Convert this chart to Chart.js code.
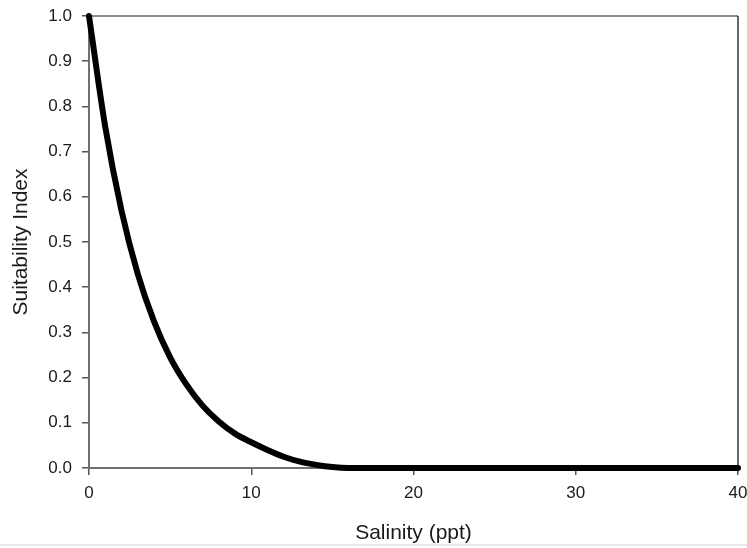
<!DOCTYPE html>
<html>
<head>
<meta charset="utf-8">
<script src="https://cdn.jsdelivr.net/npm/chart.js@4.4.1/dist/chart.umd.min.js"></script>
<style>
  html, body { margin: 0; padding: 0; background: #ffffff; }
  #wrap { width: 747px; height: 548px; position: relative; }
</style>
</head>
<body>
<div id="wrap"><canvas id="c" width="747" height="548"></canvas></div>
<script>
// Salinity (ppt) values
const salinity = [0, 1, 2, 3, 4, 5, 6, 7, 8, 9, 10, 11, 12, 13, 14, 15, 16, 20, 25, 30, 35, 40];
// Suitability Index values
const suitability = [1.0, 0.755, 0.57, 0.43, 0.325, 0.245, 0.185, 0.138, 0.103, 0.076, 0.057, 0.040, 0.025, 0.014, 0.007, 0.002, 0, 0, 0, 0, 0, 0];
const xTicks = [0, 10, 20, 30, 40];
const yTicks = [0.0, 0.1, 0.2, 0.3, 0.4, 0.5, 0.6, 0.7, 0.8, 0.9, 1.0];
const xTitle = 'Salinity (ppt)';
const yTitle = 'Suitability Index';

const points = salinity.map((s, i) => ({ x: s, y: suitability[i] }));

const frame = {
  id: 'frame',
  beforeDatasetsDraw(chart) {
    const { ctx, chartArea: a } = chart;
    ctx.save();
    ctx.strokeStyle = '#8a8a8a';
    ctx.lineWidth = 2;
    ctx.beginPath();
    ctx.moveTo(a.left, a.top);
    ctx.lineTo(a.right, a.top);
    ctx.stroke();
    ctx.strokeStyle = '#333333';
    ctx.lineWidth = 1.5;
    ctx.beginPath();
    ctx.moveTo(a.right, a.top);
    ctx.lineTo(a.right, a.bottom);
    ctx.stroke();
    ctx.restore();
  },
  afterDraw(chart) {
    const { ctx, width, height } = chart;
    ctx.save();
    ctx.strokeStyle = '#e2e2e2';
    ctx.lineWidth = 1.5;
    ctx.beginPath();
    ctx.moveTo(0, height - 3);
    ctx.lineTo(width, height - 3);
    ctx.stroke();
    ctx.restore();
  }
};

new Chart(document.getElementById('c'), {
  type: 'line',
  data: {
    datasets: [{
      data: points,
      borderColor: '#000000',
      borderWidth: 6,
      borderCapStyle: 'round',
      borderJoinStyle: 'round',
      pointRadius: 0,
      fill: false,
      cubicInterpolationMode: 'monotone',
      clip: false
    }]
  },
  options: {
    responsive: false,
    animation: false,
    devicePixelRatio: 1,
    layout: { padding: { left: 0, right: 9, top: 16, bottom: 0 } },
    plugins: { legend: { display: false }, tooltip: { enabled: false } },
    scales: {
      x: {
        type: 'linear',
        min: 0, max: 40,
        afterBuildTicks(scale) { scale.ticks = xTicks.map(v => ({ value: v })); },
        afterFit(scale) { scale.height = 80; scale.paddingLeft = 0; scale.paddingRight = 0; },
        grid: { display: true, drawOnChartArea: false, drawTicks: true, tickLength: 7, color: '#555555', lineWidth: 1.5 },
        border: { display: true, color: '#707070', width: 2 },
        ticks: { color: '#1a1a1a', font: { family: 'Liberation Sans, Arial, sans-serif', size: 17 }, padding: 8, maxRotation: 0 },
        title: { display: true, text: xTitle, color: '#1a1a1a', font: { family: 'Liberation Sans, Arial, sans-serif', size: 21 }, padding: { top: 14, bottom: 2 } }
      },
      y: {
        type: 'linear',
        min: 0, max: 1,
        afterBuildTicks(scale) { scale.ticks = yTicks.map(v => ({ value: v })); },
        afterFit(scale) { scale.width = 89; scale.paddingTop = 0; scale.paddingBottom = 0; },
        grid: { display: true, drawOnChartArea: false, drawTicks: true, tickLength: 7, color: '#555555', lineWidth: 1.5 },
        border: { display: true, color: '#707070', width: 2 },
        ticks: { color: '#1a1a1a', font: { family: 'Liberation Sans, Arial, sans-serif', size: 17 }, padding: 10, callback: v => Number(v).toFixed(1) },
        title: { display: true, text: yTitle, color: '#1a1a1a', font: { family: 'Liberation Sans, Arial, sans-serif', size: 21 }, padding: { top: 9, bottom: 3 } }
      }
    }
  },
  plugins: [frame]
});
</script>
</body>
</html>
